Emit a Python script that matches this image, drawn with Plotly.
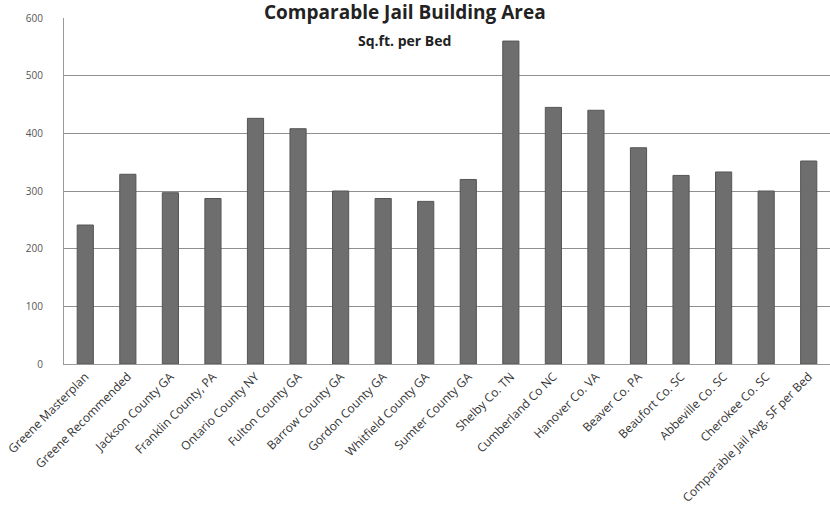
import plotly.graph_objects as go

categories = [
    "Greene Masterplan", "Greene Recommended", "Jackson County GA",
    "Franklin County, PA", "Ontario County NY", "Fulton County GA",
    "Barrow County GA", "Gordon County GA", "Whitfield County GA",
    "Sumter County GA", "Shelby Co. TN", "Cumberland Co NC",
    "Hanover Co. VA", "Beaver Co. PA", "Beaufort Co. SC",
    "Abbeville Co. SC", "Cherokee Co. SC", "Comparable Jail Avg. SF per Bed",
]
values = [241, 329, 297, 287, 426, 408, 300, 287, 282, 320, 560, 445,
          440, 375, 327, 333, 300, 352]
y_ticks = [0, 100, 200, 300, 400, 500, 600]

fig = go.Figure(go.Bar(
    x=categories, y=values,
    marker=dict(color="#6e6e6e", line=dict(color="#555555", width=1)),
    width=0.38,
))

fig.update_layout(
    width=830, height=512,
    margin=dict(l=64, r=0, t=18, b=148),
    paper_bgcolor="white", plot_bgcolor="white",
    showlegend=False,
    font=dict(family="Open Sans, DejaVu Sans, sans-serif", color="#333333"),
    xaxis=dict(
        tickangle=-45, tickfont=dict(size=12, color="#333333"),
        showgrid=False, showline=True, linecolor="#9a9a9a", ticks="",
    ),
    yaxis=dict(
        range=[0, 600], tickvals=y_ticks, tickfont=dict(size=10, color="#555555"),
        showgrid=True, gridcolor="#8f8f8f", gridwidth=1,
        showline=True, linecolor="#9a9a9a", zeroline=False, ticks="",
        ticklabelstandoff=18,
    ),
    annotations=[
        dict(text="<b>Comparable Jail Building Area</b>", xref="paper", yref="paper",
             x=0.445, y=1, yshift=6, showarrow=False, yanchor="middle",
             font=dict(size=19, color="#222222")),
        dict(text="<b>Sq.ft. per Bed</b>", xref="paper", yref="paper",
             x=0.445, y=1, yshift=-22, showarrow=False, yanchor="middle",
             font=dict(size=14, color="#222222")),
    ],
    bargap=0.6,
)

fig.write_html("out.html")
